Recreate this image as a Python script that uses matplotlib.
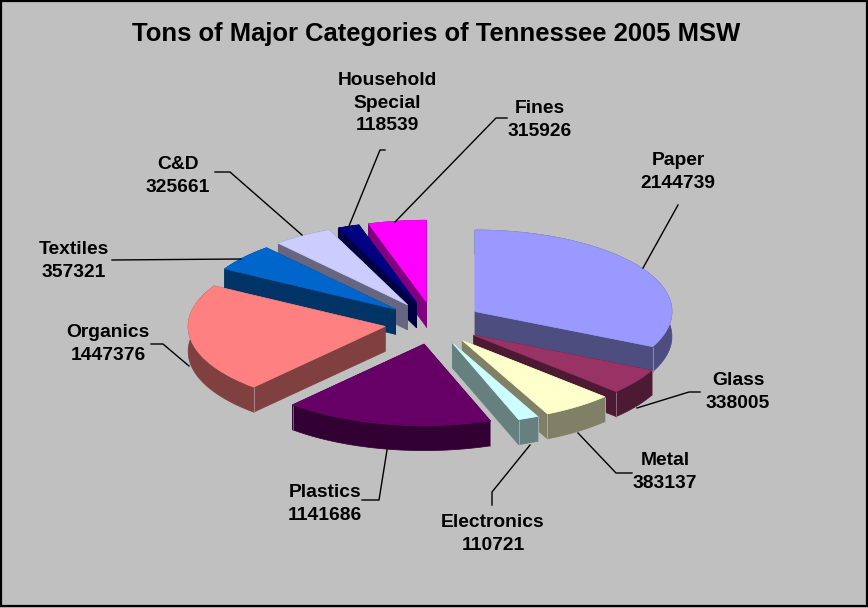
import numpy as np
import matplotlib
matplotlib.use("Agg")
import matplotlib.pyplot as plt
from matplotlib.patches import Polygon, Rectangle

# Tons per category, clockwise from twelve o'clock
categories = ["Paper", "Glass", "Metal", "Electronics", "Plastics",
              "Organics", "Textiles", "C&D", "Household\nSpecial", "Fines"]
tons = [2144739, 338005, 383137, 110721, 1141686,
        1447376, 357321, 325661, 118539, 315926]
colors = ["#9999FF", "#993366", "#FFFFCC", "#CCFFFF", "#660066",
          "#FF8080", "#0066CC", "#CCCCFF", "#000080", "#FF00FF"]

# Pie projection, in pixels
CX, CY = 433.5, 323
RX, RY = 197, 81.5
EXPLODE_X, EXPLODE_Y = 49, 21.5
DEPTH = 25

# Label anchors and leader-line routes, in pixels
label_pos = [(678, 172), (738, 392), (665, 472), (493, 534), (325, 504),
             (108, 344), (74, 261), (178, 176), (387, 103), (540, 120)]
leaders = [
    [(678, 205), (643, 268)],
    [(700, 392), (689, 392), (637, 408)],
    [(578, 433), (616, 473), (632, 473)],
    [(530, 445), (492, 492), (492, 505)],
    [(387, 450), (379, 500), (362, 500)],
    [(189, 366), (163, 344), (151, 344)],
    [(112, 260), (241, 259)],
    [(215, 172), (230, 172), (302, 235)],
    [(385, 150), (380, 150), (349, 226)],
    [(507, 118), (496, 118), (395, 222)],
]

plt.rcParams["font.family"] = ["Liberation Sans", "DejaVu Sans"]

fig = plt.figure(figsize=(8.68, 6.08), dpi=100, facecolor="#C0C0C0")
ax = fig.add_axes([0, 0, 1, 1])
ax.set_xlim(0, 868)
ax.set_ylim(608, 0)
ax.axis("off")


def darken(hex_color, factor=0.5):
    return tuple(c * factor for c in matplotlib.colors.to_rgb(hex_color))


def lighten(rgb, amount=0.35):
    return tuple(c + (1 - c) * amount for c in rgb)


values = np.asarray(tons, dtype=float)
edges = np.concatenate([[0], np.cumsum(values)]) / values.sum() * 2 * np.pi

wedges = []
for i, color in enumerate(colors):
    a0, a1 = edges[i], edges[i + 1]
    mid = (a0 + a1) / 2
    apex = np.array([CX + EXPLODE_X * np.sin(mid), CY - EXPLODE_Y * np.cos(mid)])
    t = np.linspace(a0, a1, 80)
    rim = np.column_stack([apex[0] + RX * np.sin(t), apex[1] - RY * np.cos(t)])
    wedges.append((apex[1], apex, rim, color))

# Paint from the back of the pie towards the viewer
drop = np.array([0, DEPTH])
for order, (_, apex, rim, color) in enumerate(sorted(wedges, key=lambda w: w[0])):
    z = 2 + order
    top = np.vstack([apex, rim])
    side = darken(color)
    # Extruded body: the two flat cuts and the curved rim band
    faces = [
        [apex, rim[0], rim[0] + drop, apex + drop],
        [apex, rim[-1], rim[-1] + drop, apex + drop],
        np.vstack([rim, (rim + drop)[::-1]]),
    ]
    for face in faces:
        ax.add_patch(Polygon(face, closed=True, facecolor=side, edgecolor=side,
                             linewidth=0.5, zorder=z))
    # Pale vertical creases where the flat cuts meet the rim
    for p in (rim[0], rim[-1]):
        if p[1] >= apex[1]:
            ax.plot([p[0], p[0]], [p[1], p[1] + DEPTH], color=lighten(side),
                    linewidth=0.7, zorder=z, solid_capstyle="butt")
    ax.add_patch(Polygon(top, closed=True, facecolor=color, edgecolor=color,
                         linewidth=0.5, zorder=z + 0.5))

for route in leaders:
    xs, ys = zip(*route)
    ax.plot(xs, ys, color="black", linewidth=1.0, zorder=20,
            solid_joinstyle="miter")

for name, value, (x, y) in zip(categories, tons, label_pos):
    ax.text(x, y, f"{name}\n{value}", ha="center", va="center", fontsize=13.9,
            fontweight="bold", color="black", linespacing=1.45, zorder=21)

ax.text(436, 34, "Tons of Major Categories of Tennessee 2005 MSW", ha="center",
        va="center", fontsize=18.45, fontweight="bold", color="black", zorder=21)

# Chart-area frame
ax.add_patch(Rectangle((1, 1), 866, 605, fill=False, edgecolor="black",
                       linewidth=1.6, zorder=30))

fig.savefig("out.png", dpi=100, facecolor=fig.get_facecolor())
